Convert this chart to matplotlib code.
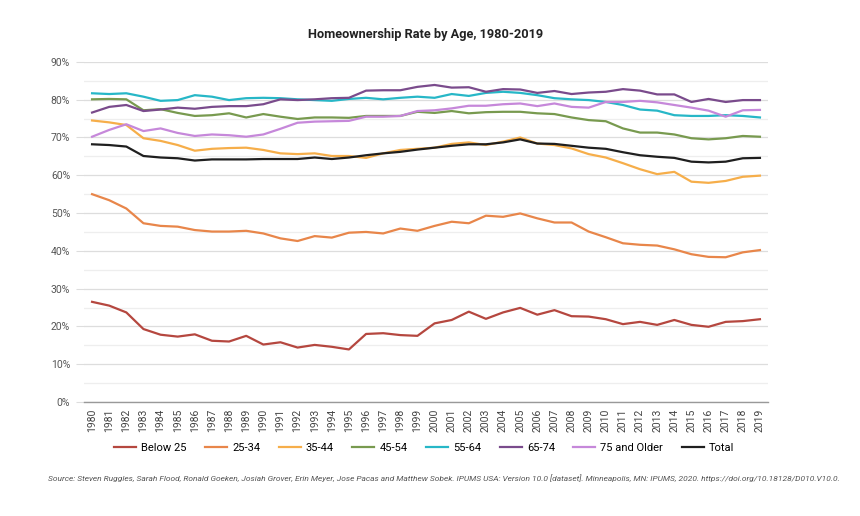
import matplotlib.pyplot as plt
from matplotlib.ticker import MultipleLocator, FuncFormatter

plt.rcParams['font.family'] = ['Roboto', 'DejaVu Sans']

years = list(range(1980, 2020))

below25 = [26.5, 25.5, 23.7, 19.3, 17.8, 17.3, 17.9, 16.2, 16.0, 17.5, 15.2, 15.8, 14.4, 15.1, 14.6, 13.9,
           18.0, 18.2, 17.7, 17.5, 20.8, 21.7, 23.9, 22.0, 23.7, 24.9, 23.1, 24.3, 22.7, 22.6,
           21.9, 20.6, 21.2, 20.4, 21.7, 20.4, 19.9, 21.2, 21.4, 21.9]
age25_34 = [55.0, 53.4, 51.2, 47.3, 46.6, 46.4, 45.5, 45.1, 45.1, 45.3, 44.6, 43.3, 42.6, 43.9, 43.5, 44.8,
            45.0, 44.6, 45.9, 45.3, 46.6, 47.7, 47.3, 49.3, 49.0, 49.9, 48.6, 47.5, 47.5, 45.1,
            43.6, 42.0, 41.6, 41.4, 40.4, 39.1, 38.4, 38.3, 39.6, 40.2]
age35_44 = [74.5, 74.0, 73.3, 69.8, 69.1, 68.0, 66.5, 67.0, 67.2, 67.3, 66.7, 65.8, 65.6, 65.8, 65.1, 65.1,
            64.6, 65.8, 66.7, 67.0, 67.3, 68.3, 68.7, 68.0, 68.9, 70.0, 68.4, 68.0, 67.1, 65.6,
            64.7, 63.2, 61.6, 60.3, 60.9, 58.3, 58.0, 58.5, 59.6, 59.9]
age45_54 = [80.1, 80.2, 80.1, 77.2, 77.5, 76.5, 75.7, 75.9, 76.4, 75.3, 76.2, 75.5, 74.9, 75.3, 75.3, 75.2,
            75.7, 75.7, 75.7, 76.8, 76.5, 77.0, 76.4, 76.7, 76.8, 76.8, 76.4, 76.2, 75.3, 74.6,
            74.3, 72.4, 71.3, 71.3, 70.8, 69.8, 69.5, 69.8, 70.4, 70.2]
age55_64 = [81.7, 81.5, 81.7, 80.8, 79.7, 79.9, 81.2, 80.8, 79.9, 80.4, 80.5, 80.4, 80.1, 79.9, 79.7, 80.2,
            80.5, 80.1, 80.5, 80.8, 80.5, 81.5, 81.0, 81.8, 82.1, 81.8, 81.2, 80.4, 80.1, 79.9,
            79.4, 78.6, 77.4, 77.1, 75.9, 75.7, 75.7, 75.9, 75.7, 75.3]
age65_74 = [76.6, 78.1, 78.6, 77.0, 77.4, 77.9, 77.6, 78.1, 78.3, 78.3, 78.8, 80.1, 79.9, 80.1, 80.4, 80.5,
            82.4, 82.5, 82.5, 83.4, 83.9, 83.2, 83.3, 82.1, 82.8, 82.7, 81.8, 82.3, 81.5, 81.9,
            82.1, 82.8, 82.4, 81.4, 81.4, 79.4, 80.2, 79.4, 79.9, 79.9]
age75_up = [70.2, 72.0, 73.5, 71.7, 72.4, 71.2, 70.4, 70.8, 70.6, 70.2, 70.8, 72.3, 73.9, 74.2, 74.3, 74.4,
            75.5, 75.5, 75.7, 77.0, 77.2, 77.7, 78.4, 78.4, 78.8, 79.0, 78.3, 79.0, 78.1, 77.9,
            79.4, 79.4, 79.7, 79.3, 78.6, 77.9, 77.1, 75.5, 77.2, 77.3]
total = [68.2, 68.0, 67.6, 65.1, 64.7, 64.5, 63.9, 64.2, 64.2, 64.2, 64.3, 64.3, 64.3, 64.7, 64.3, 64.7,
         65.3, 65.8, 66.2, 66.8, 67.3, 67.8, 68.2, 68.2, 68.7, 69.5, 68.4, 68.3, 67.8, 67.3,
         67.0, 66.1, 65.3, 64.9, 64.6, 63.6, 63.4, 63.6, 64.5, 64.6]

series = [
    ("Below 25", below25, "#b5473f"),
    ("25-34", age25_34, "#e8864a"),
    ("35-44", age35_44, "#f6ae4a"),
    ("45-54", age45_54, "#789a4f"),
    ("55-64", age55_64, "#27b7c7"),
    ("65-74", age65_74, "#7a4b8c"),
    ("75 and Older", age75_up, "#c688da"),
    ("Total", total, "#1f1f1f"),
]

fig = plt.figure(figsize=(8.6, 5.16), dpi=100)
ax = fig.add_axes([0.0977, 0.221, 0.7953, 0.659])

for name, vals, col in series:
    ax.plot(years, vals, color=col, lw=1.6, label=name, solid_joinstyle='round')

ax.set_xlim(1979.53, 2019.47)
ax.set_ylim(0, 90)
ax.yaxis.set_major_locator(MultipleLocator(10))
ax.yaxis.set_minor_locator(MultipleLocator(5))
ax.yaxis.set_major_formatter(FuncFormatter(lambda v, p: f"{int(v)}%"))
ax.grid(axis='y', which='major', color='#dddddd', lw=0.9)
ax.grid(axis='y', which='minor', color='#eeeeee', lw=0.9)
ax.set_axisbelow(True)

for s in ['top', 'right', 'left']:
    ax.spines[s].set_visible(False)
ax.spines['bottom'].set_color('#999999')
ax.spines['bottom'].set_linewidth(1.0)

ax.set_xticks(years)
ax.set_xticklabels([str(y) for y in years], rotation=90, fontsize=7.5, color='#444444')
ax.tick_params(axis='x', length=0, pad=5)
ax.tick_params(axis='y', which='major', length=6, color='#dddddd', labelsize=7.5, labelcolor='#555555', pad=4)
ax.tick_params(axis='y', which='minor', length=0)

ax.set_title("Homeownership Rate by Age, 1980-2019", fontsize=9.2, fontweight='bold', color='#222222', pad=17)

ax.legend(loc='upper center', bbox_to_anchor=(0.497, -0.091), ncol=8, frameon=False,
          fontsize=8, handlelength=2.0, columnspacing=1.65, handletextpad=0.45)

fig.text(0.056, 0.068,
         "Source: Steven Ruggles, Sarah Flood, Ronald Goeken, Josiah Grover, Erin Meyer, Jose Pacas and Matthew Sobek. "
         "IPUMS USA: Version 10.0 [dataset]. Minneapolis, MN: IPUMS, 2020. https://doi.org/10.18128/D010.V10.0.",
         fontsize=6.0, style='italic', color='#555555')

fig.savefig("out.png", dpi=100)
